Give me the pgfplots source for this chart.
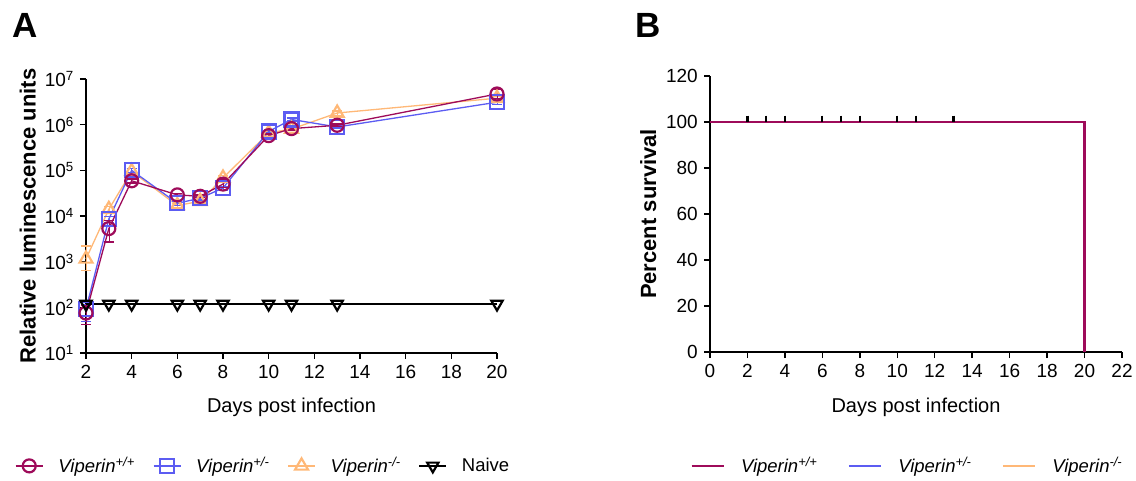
\documentclass[border=0pt]{standalone}
\usepackage{pgfplots}
\pgfplotsset{compat=1.18}
\usepackage{fontspec}
\setmainfont{Liberation Sans}
\definecolor{cwt}{HTML}{9E0B5A}
\definecolor{chet}{HTML}{5C5CF2}
\definecolor{cko}{HTML}{FFB877}
\begin{document}
\fontsize{18}{22}\selectfont
\begin{tikzpicture}
\path[use as bounding box] (0pt,0pt) rectangle (1136pt,480pt);
\pgfplotsset{
  every axis/.append style={
    scale only axis, clip=false,
    axis lines=left, axis line style={-, line width=1.7pt},
    tick align=outside, tick pos=left,
    major tick length=6pt, minor tick length=3pt,
    every tick/.style={black, line width=1.5pt},
    /pgf/number format/assume math mode=true,
    tick label style={font=\fontsize{19}{22}\selectfont},
    every axis y label/.style={at={(axis description cs:-0.142,0.5)}, rotate=90, anchor=center, font=\fontsize{22}{26}\selectfont\bfseries},
    every axis x label/.style={at={(axis description cs:0.5,-0.198)}, anchor=center, font=\fontsize{20}{24}\selectfont},
  }
}
% ---------------- Panel A ----------------
\begin{axis}[
  at={(86pt,127pt)}, anchor=south west,
  width=411pt, height=274pt,
  ymode=log, log basis y=10,
  xmin=2, xmax=20, ymin=10, ymax=1e7,
  xtick={2,4,...,20},
  ytick={1e1,1e2,1e3,1e4,1e5,1e6,1e7},
  yticklabels={10\textsuperscript{1},10\textsuperscript{2},10\textsuperscript{3},10\textsuperscript{4},10\textsuperscript{5},10\textsuperscript{6},10\textsuperscript{7}},
  minor tick style={line width=1pt},
  xlabel={Days post infection},
  ylabel={Relative luminescence units},
  legend columns=4,
  legend style={draw=none, fill=none, inner sep=0pt,
    at={(axis description cs:-0.173,-0.412)}, anchor=west,
    font=\fontsize{18.5}{22}\selectfont,
    nodes={inner xsep=0pt},
    /tikz/every odd column/.append style={column sep=15pt},
    /tikz/every even column/.append style={column sep=18pt}},
  legend image code/.code={\draw[mark repeat=2,mark phase=2] plot coordinates {(0pt,0pt) (13.5pt,0pt) (27pt,0pt)};},
  error bars/y dir=both, error bars/y explicit,
  error bars/error mark options={rotate=90, mark size=5pt, line width=1.3pt},
]
\addlegendimage{cwt, line width=1.3pt, mark=o, mark size=6.5pt, mark options={fill=white, line width=2.2pt}}
\addlegendentry{\textit{Viperin\textsuperscript{+/+}}}
\addlegendimage{chet, line width=1.3pt, mark=square, mark size=7pt, mark options={fill=white, line width=2.2pt}}
\addlegendentry{\textit{Viperin\textsuperscript{+/-}}}
\addlegendimage{cko, line width=1.3pt, mark=triangle, mark size=7.5pt, mark options={fill=white, line width=2.2pt}}
\addlegendentry{\textit{Viperin\textsuperscript{-/-}}}
\addlegendimage{black, line width=1.3pt, mark=triangle, mark size=6.5pt, mark options={rotate=180, fill=white, line width=2.2pt}}
\addlegendentry{Naive}
% Viperin -/-
\addplot[cko, line width=1.3pt, mark=triangle, mark size=7.5pt, mark options={fill=white, line width=2.2pt}, forget plot]
 coordinates {
 (2,1150) +=(0,1050) -=(0,500)
 (3,14000) +=(0,2000) -=(0,2000)
 (4,95000) +=(0,15000) -=(0,10000)
 (6,17000) +=(0,2000) -=(0,2000)
 (7,21000) +=(0,2000) -=(0,2000)
 (8,68000) +=(0,8000) -=(0,8000)
 (10,660000) +=(0,50000) -=(0,50000)
 (11,800000) +=(0,50000) -=(0,50000)
 (13,1800000) +=(0,200000) -=(0,200000)
 (20,3800000) +=(0,400000) -=(0,400000)
 };
% Viperin +/-
\addplot[chet, line width=1.3pt, mark=square, mark size=7pt, mark options={fill=white, line width=2.2pt}, forget plot]
 coordinates {
 (2,92) +=(0,20) -=(0,43)
 (3,8600) +=(0,1000) -=(0,1500)
 (4,100000) +=(0,10000) -=(0,10000)
 (6,19000) +=(0,2000) -=(0,2000)
 (7,24500) +=(0,2000) -=(0,2000)
 (8,41000) +=(0,4000) -=(0,5000)
 (10,710000) +=(0,50000) -=(0,50000)
 (11,1300000) +=(0,100000) -=(0,100000)
 (13,890000) +=(0,50000) -=(0,50000)
 (20,3100000) +=(0,300000) -=(0,300000)
 };
% Viperin +/+
\addplot[cwt, line width=1.3pt, mark=o, mark size=6.5pt, mark options={fill=white, line width=2.2pt}, forget plot]
 coordinates {
 (2,75) +=(0,35) -=(0,33)
 (3,5300) +=(0,2700) -=(0,2600)
 (4,59000) +=(0,6000) -=(0,6000)
 (6,29000) +=(0,2000) -=(0,2000)
 (7,27000) +=(0,2000) -=(0,2000)
 (8,50000) +=(0,12000) -=(0,8000)
 (10,575000) +=(0,50000) -=(0,50000)
 (11,820000) +=(0,60000) -=(0,60000)
 (13,970000) +=(0,60000) -=(0,60000)
 (20,4700000) +=(0,1300000) -=(0,1000000)
 };
% Naive
\addplot[black, line width=1.3pt, mark=triangle, mark size=6.5pt, mark options={rotate=180, fill=white, line width=2.2pt}, forget plot, error bars/y dir=none]
 coordinates {(2,118) (3,118) (4,118) (6,118) (7,118) (8,118) (10,118) (11,118) (13,118) (20,118)};
\end{axis}
\node[font=\fontsize{35}{40}\selectfont\bfseries] at (25pt,455pt) {A};
% ---------------- Panel B ----------------
\begin{axis}[
  at={(710pt,128pt)}, anchor=south west,
  width=412pt, height=276pt,
  xmin=0, xmax=22, ymin=0, ymax=120,
  xtick={0,2,...,22}, ytick={0,20,...,120},
  xlabel={Days post infection},
  ylabel={Percent survival},
  every axis y label/.style={at={(axis description cs:-0.150,0.5)}, rotate=90, anchor=center, font=\fontsize{22}{26}\selectfont\bfseries},
  every axis x label/.style={at={(axis description cs:0.5,-0.199)}, anchor=center, font=\fontsize{20}{24}\selectfont},
  legend columns=3,
  legend style={draw=none, fill=none, inner sep=0pt,
    at={(axis description cs:-0.0485,-0.413)}, anchor=west,
    font=\fontsize{18.5}{22}\selectfont,
    nodes={inner xsep=0pt},
    /tikz/every odd column/.append style={column sep=16pt},
    /tikz/every even column/.append style={column sep=30pt}},
  legend image code/.code={\draw plot coordinates {(0pt,0pt) (32pt,0pt)};},
]
\addlegendimage{cwt, line width=2.8pt}
\addlegendentry{\textit{Viperin\textsuperscript{+/+}}}
\addlegendimage{chet, line width=2.8pt}
\addlegendentry{\textit{Viperin\textsuperscript{+/-}}}
\addlegendimage{cko, line width=2.8pt}
\addlegendentry{\textit{Viperin\textsuperscript{-/-}}}
\addplot[cko, line width=2.8pt, forget plot] coordinates {(0,100) (20,100) (20,0)};
\addplot[chet, line width=2.8pt, forget plot] coordinates {(0,100) (20,100) (20,0)};
\addplot[cwt, line width=2.8pt, forget plot] coordinates {(0,100) (20,100) (20,0)};
\addplot[black, only marks, mark=|, mark size=3pt, mark options={line width=2.2pt}, forget plot]
 coordinates {(2,101.5) (3,101.5) (4,101.5) (6,101.5) (7,101.5) (8,101.5) (10,101.5) (11,101.5) (13,101.5)};
\end{axis}
\node[font=\fontsize{35}{40}\selectfont\bfseries] at (648pt,455pt) {B};
\end{tikzpicture}
\end{document}
